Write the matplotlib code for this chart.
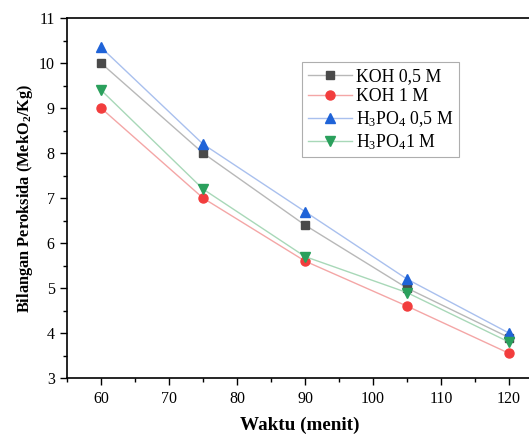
import matplotlib
matplotlib.use("Agg")
import matplotlib.pyplot as plt
from matplotlib.ticker import MultipleLocator

plt.rcParams['font.family'] = ['Liberation Serif', 'DejaVu Serif']
plt.rcParams['mathtext.fontset'] = 'custom'
plt.rcParams['mathtext.rm'] = 'Liberation Serif'
plt.rcParams['mathtext.bf'] = 'Liberation Serif:bold'
plt.rcParams['mathtext.default'] = 'regular'

waktu = [60, 75, 90, 105, 120]
koh_05 = [10.0, 8.0, 6.4, 5.0, 3.9]
koh_1 = [9.0, 7.0, 5.6, 4.6, 3.55]
h3po4_05 = [10.35, 8.2, 6.7, 5.2, 4.0]
h3po4_1 = [9.4, 7.2, 5.7, 4.9, 3.8]

labels = ['KOH 0,5 M', 'KOH 1 M', r'H$_3$PO$_4$ 0,5 M', r'H$_3$PO$_4$1 M']
series = [koh_05, koh_1, h3po4_05, h3po4_1]
markers = ['s', 'o', '^', 'v']
msizes = [6, 6.5, 7, 7]
mcolors = ['#4a4a4a', '#f23d3d', '#1f63d8', '#2aa05c']
lcolors = ['#b8b8b8', '#f4a6a6', '#a9c0ee', '#a8d8b8']

fig = plt.figure(figsize=(5.29, 4.34), dpi=100)
ax = fig.add_axes([0.127, 0.129, 0.88, 0.829])

for y, lab, m, ms, mc, lc in zip(series, labels, markers, msizes, mcolors, lcolors):
    ax.plot(waktu, y, color=lc, lw=1.0, marker=m, markersize=ms,
            markerfacecolor=mc, markeredgecolor=mc, label=lab)

ax.set_xlim(55, 123.5)
ax.set_ylim(3, 11)
ax.xaxis.set_major_locator(MultipleLocator(10))
ax.xaxis.set_minor_locator(MultipleLocator(5))
ax.yaxis.set_major_locator(MultipleLocator(1))
ax.yaxis.set_minor_locator(MultipleLocator(0.5))
ax.tick_params(which='major', direction='out', length=5, width=1, labelsize=11.5, pad=4)
ax.tick_params(which='minor', direction='out', length=3, width=1)
for s in ['left', 'bottom', 'top']:
    ax.spines[s].set_linewidth(1.2)
ax.spines['right'].set_visible(False)

ax.set_xlabel('Waktu (menit)', fontsize=13.8, fontweight='bold', labelpad=7)
ax.set_ylabel(r'Bilangan Peroksida (MekO$\mathbf{_2}$/Kg)', fontsize=11.8,
              fontweight='bold', labelpad=3)

leg = ax.legend(loc='upper left', bbox_to_anchor=(0.505, 0.877), fontsize=12.8,
                frameon=True, fancybox=False, edgecolor='#9a9a9a',
                handlelength=2.5, handletextpad=0.25, borderpad=0.3, labelspacing=0.2,
                borderaxespad=0)
leg.get_frame().set_linewidth(0.8)

fig.savefig('out.png', dpi=100)
